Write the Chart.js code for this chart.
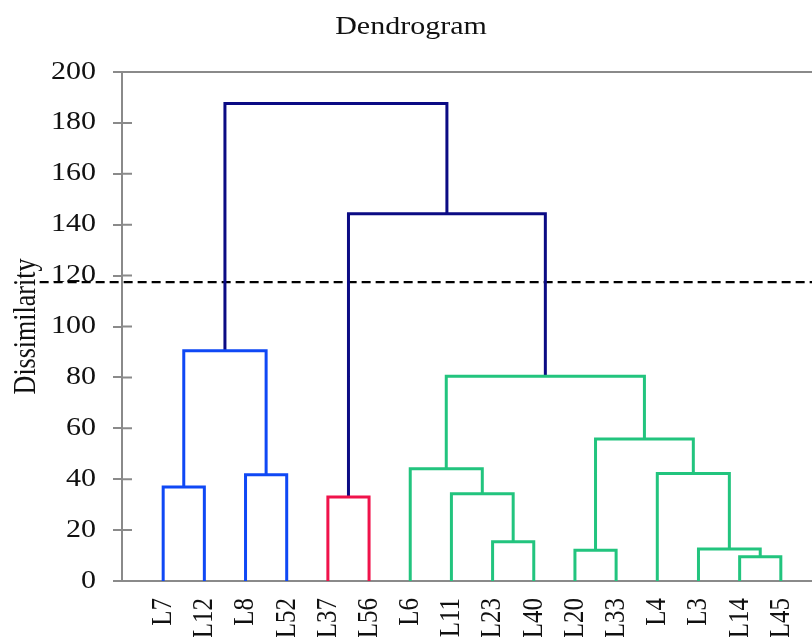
<!DOCTYPE html>
<html>
<head>
<meta charset="utf-8">
<script src="https://cdn.jsdelivr.net/npm/chart.js@4/dist/chart.umd.min.js"></script>
<style>
  html, body { margin: 0; padding: 0; background: #fff; overflow: hidden; }
  #wrap { width: 822px; height: 637px; }
</style>
</head>
<body>
<div id="wrap"><canvas id="dendro" width="822" height="637"></canvas></div>
<script>
// Leaf order along the x axis
const leaves = ['L7', 'L12', 'L8', 'L52', 'L37', 'L56', 'L6', 'L11',
                'L23', 'L40', 'L20', 'L33', 'L4', 'L3', 'L14', 'L45'];

// Agglomeration steps: node ids 0..15 are leaves, merge k creates node 16 + k
const mergeLeft   = [14, 10, 13, 8, 4, 7, 0, 2, 12, 6, 17, 25, 22, 20, 28];
const mergeRight  = [15, 11, 16, 9, 5, 19, 1, 3, 18, 21, 24, 26, 23, 27, 29];
const mergeHeight = [9.5, 12.1, 12.6, 15.4, 33.0, 34.3, 36.9, 41.7, 42.2, 44.1, 55.8, 80.5, 90.5, 144.3, 187.6];
const mergeGroup  = ['C3', 'C3', 'C3', 'C3', 'C2', 'C3', 'C1', 'C1', 'C3', 'C3', 'C3', 'C3', 'C1', 'top', 'top'];

// Truncation level
const cutHeight = 117.4;

// Y axis ticks
const yTickValues = [0, 20, 40, 60, 80, 100, 120, 140, 160, 180, 200];

const groupColors = { C1: '#0f48f5', C2: '#f0134b', C3: '#22c47e', top: '#0b0b84' };
const serif = "'Liberation Serif', 'Times New Roman', serif";
const axisGray = '#8a8a8a';
const textSize = 25;
const textWiden = 1.2;   // glyphs are drawn a little wider than the font's natural width

// Node positions: leaves sit at 1..n, merges at the midpoint of their children
const nodeX = leaves.map((_, i) => i + 1);
const nodeH = leaves.map(() => 0);
mergeHeight.forEach((h, k) => {
  const a = mergeLeft[k], b = mergeRight[k];
  nodeX.push((nodeX[a] + nodeX[b]) / 2);
  nodeH.push(h);
});

const linkSets = mergeHeight.map((h, k) => {
  const a = mergeLeft[k], b = mergeRight[k];
  return {
    data: [
      { x: nodeX[a], y: nodeH[a] },
      { x: nodeX[a], y: h },
      { x: nodeX[b], y: h },
      { x: nodeX[b], y: nodeH[b] }
    ],
    borderColor: groupColors[mergeGroup[k]],
    borderWidth: 3,
    borderJoinStyle: 'miter',
    borderCapStyle: 'butt',
    pointRadius: 0,
    tension: 0,
    fill: false
  };
});

const cutSet = {
  data: [{ x: -2, y: cutHeight }, { x: leaves.length + 1, y: cutHeight }],
  borderColor: '#000',
  borderWidth: 2.2,
  borderDash: [9, 5],
  pointRadius: 0,
  fill: false,
  clip: false
};

// Frame: top edge and inward half of the y tick marks
const framePlugin = {
  id: 'frame',
  beforeDatasetsDraw(chart) {
    const { ctx, chartArea, scales } = chart;
    ctx.save();
    ctx.strokeStyle = axisGray;
    ctx.lineWidth = 2;
    ctx.beginPath();
    ctx.moveTo(chartArea.left - 1, chartArea.top);
    ctx.lineTo(chartArea.right, chartArea.top);
    scales.y.ticks.forEach(t => {
      const py = scales.y.getPixelForValue(t.value);
      ctx.moveTo(chartArea.left, py);
      ctx.lineTo(chartArea.left + 10, py);
    });
    ctx.stroke();
    ctx.restore();
  }
};

// Widen every text run horizontally (screen space) around its anchor point
const canvas = document.getElementById('dendro');
const ctx2d = canvas.getContext('2d');
const baseFillText = ctx2d.fillText.bind(ctx2d);
ctx2d.fillText = function (text, x, y, maxWidth) {
  const m = this.getTransform();
  const p = m.transformPoint(new DOMPoint(x, y));
  this.save();
  this.setTransform(new DOMMatrix().translate(p.x, 0).scale(textWiden, 1).translate(-p.x, 0).multiply(m));
  if (maxWidth === undefined) baseFillText(text, x, y); else baseFillText(text, x, y, maxWidth);
  this.restore();
};

new Chart(canvas, {
  type: 'line',
  data: { datasets: [...linkSets, cutSet] },
  plugins: [framePlugin],
  options: {
    responsive: false,
    animation: false,
    events: [],
    layout: { padding: 0 },
    plugins: {
      legend: { display: false },
      tooltip: { enabled: false },
      title: {
        display: true,
        text: 'Dendrogram',
        color: '#111',
        font: { family: serif, size: textSize, weight: 'normal' },
        padding: { top: 12, bottom: 30 }
      }
    },
    scales: {
      x: {
        type: 'linear',
        min: 0,
        max: leaves.length + 1,
        afterFit(scale) { scale.height = 56; scale.paddingLeft = 0; scale.paddingRight = 0; },
        afterBuildTicks(scale) { scale.ticks = leaves.map((_, i) => ({ value: i + 1 })); },
        grid: { display: false, drawTicks: false },
        border: { display: true, color: axisGray, width: 2 },
        ticks: {
          autoSkip: false,
          minRotation: 90,
          maxRotation: 90,
          padding: 17,
          color: '#111',
          font: { family: serif, size: textSize },
          callback: (v) => leaves[v - 1] ?? ''
        }
      },
      y: {
        min: 0,
        max: 200,
        afterFit(scale) { scale.width = 122; },
        afterBuildTicks(scale) { scale.ticks = yTickValues.map(v => ({ value: v })); },
        grid: { drawOnChartArea: false, drawTicks: true, tickLength: 9, color: axisGray, lineWidth: 2 },
        border: { display: true, color: axisGray, width: 2 },
        ticks: {
          padding: 17,
          color: '#111',
          font: { family: serif, size: textSize }
        },
        title: {
          display: true,
          text: 'Dissimilarity',
          color: '#111',
          font: { family: serif, size: 26 },
          padding: { top: 11, bottom: 0 }
        }
      }
    }
  }
});
</script>
</body>
</html>
